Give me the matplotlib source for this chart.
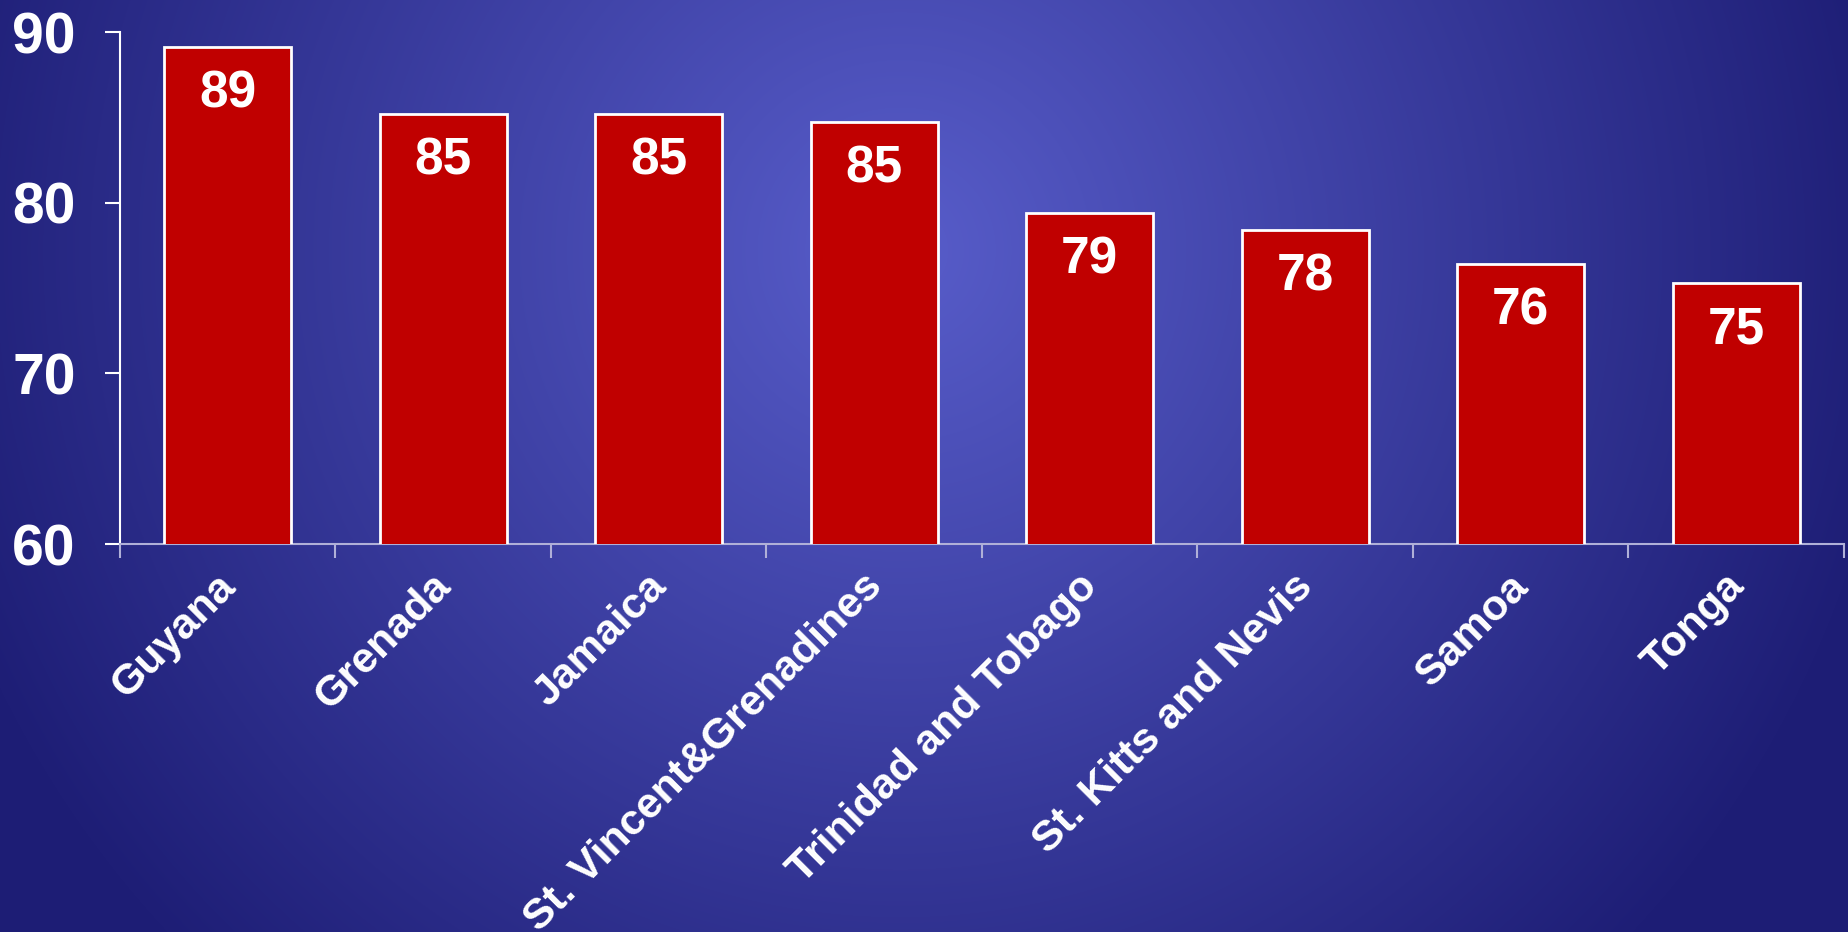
import numpy as np
import matplotlib
matplotlib.use('Agg')
import matplotlib.pyplot as plt

countries = ['Guyana', 'Grenada', 'Jamaica', 'St. Vincent&Grenadines',
             'Trinidad and Tobago', 'St. Kitts and Nevis', 'Samoa', 'Tonga']
values = [89.1, 85.2, 85.2, 84.7, 79.4, 78.4, 76.4, 75.3]
yticks = [60, 70, 80, 90]

plt.rcParams['font.family'] = ['Liberation Sans', 'DejaVu Sans']
plt.rcParams['font.weight'] = 'bold'

W, H = 1849, 932
fig = plt.figure(figsize=(W / 100, H / 100), dpi=100)

# radial blue backdrop, brightest a little above the middle
bg = fig.add_axes([0, 0, 1, 1])
yy, xx = np.mgrid[0:H, 0:W]
d = np.sqrt(((xx - 900) / 1000.0) ** 2 + ((yy - 250) / 1000.0) ** 2)
d = np.clip(d, 0, 1)[..., None]
inner = np.array([88, 93, 202]) / 255.0
outer = np.array([30, 30, 118]) / 255.0
img = inner * (1 - d) + outer * d
bg.imshow(img, aspect='auto', extent=[0, 1, 0, 1], origin='upper')
bg.axis('off')

ax = fig.add_axes([120 / W, 1 - 544 / H, (1844 - 120) / W, (544 - 32) / H])
ax.patch.set_alpha(0)

x = np.arange(len(countries))
bars = ax.bar(x, values, width=0.59, color='#c00000',
              edgecolor='white', linewidth=2, zorder=3)

for xi, v in zip(x, values):
    ax.annotate('%.0f' % v, (xi, v), xytext=(0, -16), textcoords='offset points',
                ha='center', va='top', color='white', fontsize=37,
                fontweight='bold', zorder=4)

ax.set_xlim(-0.5, len(countries) - 0.5)
ax.set_ylim(60, 90)
ax.set_yticks(yticks)
ax.set_yticklabels([str(t) for t in yticks], fontsize=41, color='white',
                   fontweight='bold')
ax.set_xticks(np.arange(len(countries) + 1) - 0.5)
ax.set_xticklabels([])
ax.tick_params(axis='y', length=11, width=1.5, color='white', pad=21)
ax.tick_params(axis='x', length=10, width=1.5, color='#b0b0d8')

for s in ['top', 'right']:
    ax.spines[s].set_visible(False)
ax.spines['left'].set_color('white')
ax.spines['left'].set_linewidth(1.5)
ax.spines['bottom'].set_color('#b0b0d8')
ax.spines['bottom'].set_linewidth(1.5)

# rotated category names under each bar
for xi, name in zip(x, countries):
    ax.annotate(name, (xi, 60), xytext=(-9, -16), textcoords='offset points',
                rotation=45, rotation_mode='anchor', ha='right', va='top',
                color='white', fontsize=31, fontweight='bold',
                annotation_clip=False)

fig.savefig('out.png', dpi=100)
